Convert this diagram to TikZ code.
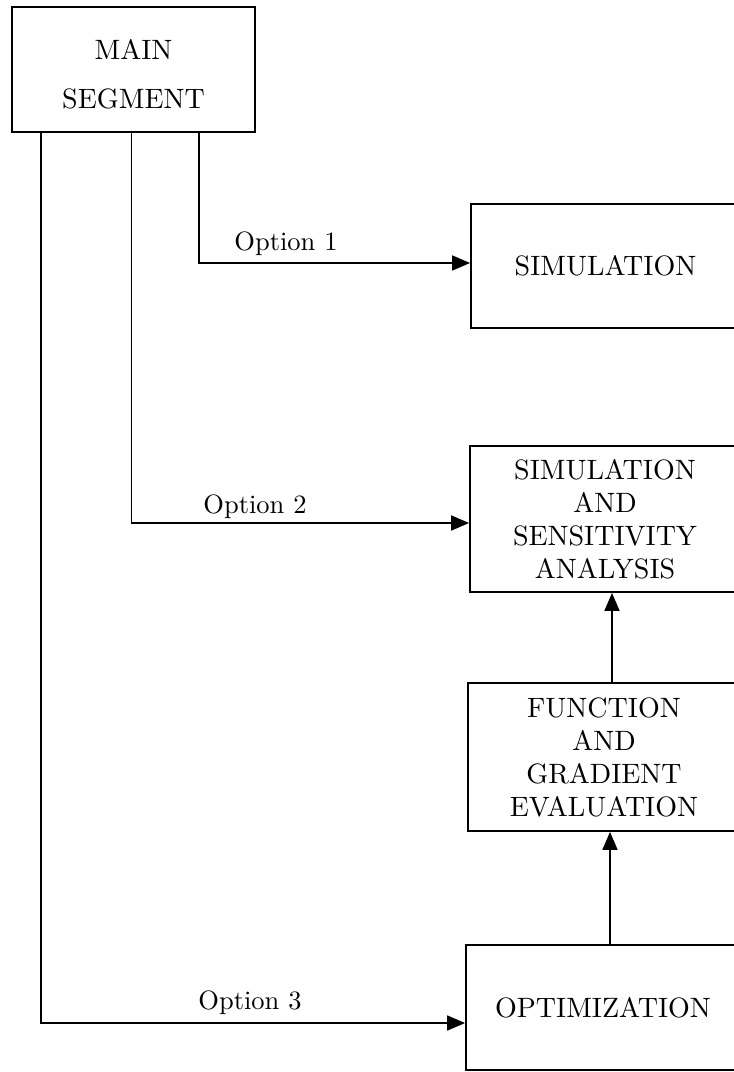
\documentclass[tikz,border=0pt]{standalone}
\usepackage{fontspec}
\setmainfont{lmroman10-regular}[Extension=.otf]
\usetikzlibrary{arrows.meta}
\tikzset{
  blk/.style={draw, line width=1.8pt, inner sep=0pt, align=center,
    font=\fontsize{28}{33}\selectfont},
  lbl/.style={inner sep=0pt, anchor=base, font=\fontsize{26.5}{30}\selectfont},
  arr/.style={line width=1.7pt, -{Triangle[length=18pt,width=15pt]}},
}
\begin{document}
\begin{tikzpicture}[x=1pt,y=-1pt]
\useasboundingbox (0,0) rectangle (734,1072);
\node[blk, minimum width=243pt, minimum height=125pt] (main) at (133.5,69.5) {\rule{0pt}{29pt}MAIN\\[16pt]SEGMENT};
\node[blk, minimum width=269pt, minimum height=124pt] (sim) at (605.5,266) {SIMULATION};
\node[blk, minimum width=270pt, minimum height=146pt] (ssa) at (605,519) {SIMULATION\\AND\\SENSITIVITY\\ANALYSIS};
\node[blk, minimum width=272pt, minimum height=148pt] (fge) at (604,757) {FUNCTION\\AND\\GRADIENT\\EVALUATION};
\node[blk, minimum width=274pt, minimum height=125pt] (opt) at (603,1007.5) {OPTIMIZATION};

\draw[arr] ([xshift=65.5pt]main.south) |- ([yshift=3pt]sim.west);
\draw[arr] ([xshift=-2pt]main.south) |- ([yshift=-4pt]ssa.west);
\draw[arr] ([xshift=-92.5pt]main.south) |- ([yshift=-15.5pt]opt.west);
\draw[arr] ([xshift=8pt]fge.north) -- ([xshift=8pt]fge.north |- ssa.south);
\draw[arr] ([xshift=7pt]opt.north) -- ([xshift=7pt]opt.north |- fge.south);

\node[lbl] (o1) at (286,250) {Option 1};
\node[lbl] (o2) at (255,513) {Option 2};
\node[lbl] (o3) at (250,1009) {Option 3};
\end{tikzpicture}
\end{document}
